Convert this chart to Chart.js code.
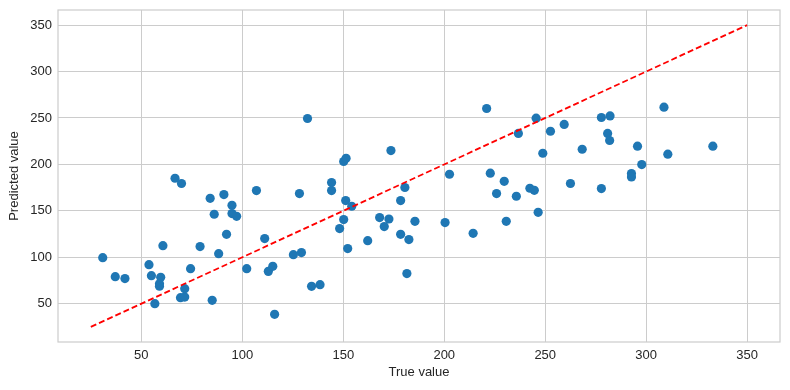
<!DOCTYPE html>
<html>
<head>
<meta charset="utf-8">
<script src="https://cdn.jsdelivr.net/npm/chart.js@4/dist/chart.umd.min.js"></script>
<style>
    html, body { margin: 0; padding: 0; background: #fff; }
    #wrap { width: 790px; height: 390px; }
</style>
</head>
<body>
<div id="wrap"><canvas id="scatterChart" width="790" height="390"></canvas></div>
<script>
// Data
const trueValues = [
    30.9, 37.1, 41.9, 53.8, 55.0, 56.7, 59.6, 59.0, 59.0, 60.7,
    66.7, 69.9, 69.4, 71.5, 71.5, 74.4, 79.1, 84.1, 85.1, 86.1,
    88.3, 90.9, 92.2, 94.9, 94.9, 97.2, 102.2, 107.0, 111.1, 112.9,
    115.1, 116.0, 125.3, 129.3, 128.3, 132.3, 134.3, 138.5, 144.2, 144.2,
    148.2, 150.2, 150.2, 151.4, 151.2, 152.2, 154.2, 162.1, 168.0, 170.3,
    172.6, 173.6, 178.4, 178.4, 180.5, 181.5, 182.5, 185.5, 200.4, 202.6,
    214.3, 221.0, 222.8, 225.9, 229.7, 230.7, 235.7, 236.7, 242.4, 244.6,
    245.5, 246.5, 248.8, 252.6, 259.4, 262.5, 268.3, 277.8, 277.8, 280.9,
    281.9, 282.1, 292.7, 292.7, 295.7, 297.8, 308.8, 310.7, 333.0
];
const predictedValues = [
    99.6, 79.1, 77.0, 92.0, 80.2, 50.0, 78.4, 71.6, 68.9, 112.5,
    185.1, 179.4, 56.5, 57.1, 66.2, 87.7, 111.5, 163.5, 53.6, 146.3,
    103.9, 167.5, 124.7, 156.0, 147.0, 144.1, 87.7, 171.8, 120.1, 84.8,
    90.2, 38.5, 102.8, 105.0, 168.6, 249.4, 68.7, 70.5, 180.4, 171.8,
    130.9, 140.6, 203.1, 206.6, 161.0, 109.3, 154.9, 117.9, 142.7, 133.0,
    141.2, 214.9, 161.0, 124.7, 175.1, 82.4, 119.0, 138.7, 137.3, 189.4,
    125.8, 260.2, 190.5, 168.6, 181.8, 138.7, 165.7, 233.3, 174.3, 172.1,
    249.8, 148.4, 212.0, 235.7, 243.0, 179.4, 216.3, 250.5, 174.0, 233.3,
    225.7, 252.2, 190.1, 186.5, 219.6, 199.8, 261.6, 211.0, 219.6
];
// y = x reference line
const lineX = [25, 350];
const lineY = [25, 350];
const tickValues = [50, 100, 150, 200, 250, 300, 350];
const axisMin = 8.75;
const axisMax = 366.25;

const textColor = '#262626';
const gridColor = '#cccccc';
const fontFamily = "'Liberation Sans', Arial, sans-serif";

// full box around the plot area like the matplotlib spines
const frame = {
    id: 'frame',
    afterDraw(chart) {
        const a = chart.chartArea;
        const c = chart.ctx;
        c.save();
        c.strokeStyle = gridColor;
        c.lineWidth = 1.2;
        c.strokeRect(a.left, a.top, a.right - a.left, a.bottom - a.top);
        c.restore();
    }
};

function fixedTicks(scale) {
    scale.ticks = tickValues.map(v => ({ value: v }));
}

const ctx = document.getElementById('scatterChart').getContext('2d');
new Chart(ctx, {
    type: 'scatter',
    data: {
        datasets: [
            {
                label: 'points',
                data: trueValues.map((x, i) => ({ x: x, y: predictedValues[i] })),
                backgroundColor: '#1f77b4',
                borderColor: '#1f77b4',
                borderWidth: 0,
                pointRadius: 4.6,
                order: 2
            },
            {
                type: 'line',
                label: 'ideal',
                data: lineX.map((x, i) => ({ x: x, y: lineY[i] })),
                borderColor: '#ff0000',
                borderWidth: 1.8,
                borderDash: [6, 3],
                pointRadius: 0,
                fill: false,
                order: 1
            }
        ]
    },
    options: {
        responsive: false,
        animation: false,
        layout: { padding: { left: 0, right: 10, top: 10, bottom: 0 } },
        plugins: {
            legend: { display: false },
            tooltip: { enabled: false }
        },
        scales: {
            x: {
                type: 'linear',
                min: axisMin,
                max: axisMax,
                afterBuildTicks: fixedTicks,
                afterFit(scale) {
                    scale.height = 48;
                    scale.paddingLeft = 0;
                    scale.paddingRight = 0;
                },
                border: { display: false },
                grid: { color: gridColor, drawTicks: false, lineWidth: 1 },
                ticks: {
                    color: textColor,
                    font: { family: fontFamily, size: 13 },
                    padding: 6,
                    maxRotation: 0
                },
                title: {
                    display: true,
                    text: 'True value',
                    color: textColor,
                    font: { family: fontFamily, size: 13 },
                    padding: { top: 4, bottom: 10 }
                }
            },
            y: {
                type: 'linear',
                min: axisMin,
                max: axisMax,
                afterBuildTicks: fixedTicks,
                afterFit(scale) {
                    scale.width = 58;
                    scale.paddingTop = 0;
                    scale.paddingBottom = 0;
                },
                border: { display: false },
                grid: { color: gridColor, drawTicks: false, lineWidth: 1 },
                ticks: {
                    color: textColor,
                    font: { family: fontFamily, size: 13 },
                    padding: 6
                },
                title: {
                    display: true,
                    text: 'Predicted value',
                    color: textColor,
                    font: { family: fontFamily, size: 13 },
                    padding: { top: 7, bottom: 4 }
                }
            }
        }
    },
    plugins: [frame]
});
</script>
</body>
</html>
